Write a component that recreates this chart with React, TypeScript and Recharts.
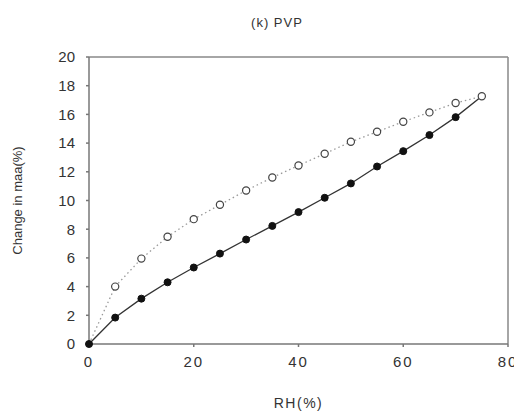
import React from 'react';
import { LineChart, Line, XAxis, YAxis, ReferenceLine } from 'recharts';

const rh = [0, 5, 10, 15, 20, 25, 30, 35, 40, 45, 50, 55, 60, 65, 70, 75];
const filledSeries = [0, 1.84, 3.16, 4.3, 5.33, 6.3, 7.28, 8.23, 9.19, 10.19, 11.19, 12.37, 13.44, 14.56, 15.81, 17.26];
const openSeries = [0, 4.0, 5.95, 7.47, 8.7, 9.7, 10.7, 11.6, 12.44, 13.26, 14.09, 14.79, 15.49, 16.14, 16.79, 17.26];
const xTicks = [0, 20, 40, 60, 80];
const yTicks = [0, 2, 4, 6, 8, 10, 12, 14, 16, 18, 20];

const data = rh.map((x, i) => ({ x, filled: filledSeries[i], open: openSeries[i] }));

const tickStyle = { fontFamily: '"Liberation Sans", Arial, sans-serif', fontSize: 15, fill: '#333' };

const FilledDot = (props: any) => {
  const { cx, cy, index } = props;
  if (index === rh.length - 1) return <g key={`f${index}`} />;
  return <circle key={`f${index}`} cx={cx} cy={cy} r={3.5} fill="#111" stroke="#111" strokeWidth={1} />;
};

const OpenDot = (props: any) => {
  const { cx, cy, index } = props;
  if (index === 0) return <g key={`o${index}`} />;
  return <circle key={`o${index}`} cx={cx} cy={cy} r={3.6} fill="#fff" stroke="#444" strokeWidth={1.2} />;
};

export default function App() {
  return (
    <div style={{ position: 'relative', width: 514, height: 405 }}>
      <div
        style={{
          position: 'absolute',
          left: 0,
          width: 538,
          top: 7,
          textAlign: 'center',
          fontFamily: '"Liberation Sans", Arial, sans-serif',
          fontSize: 13,
          letterSpacing: 1,
          color: '#333',
        }}
      >
        (k) PVP
      </div>
      <LineChart width={514} height={405} data={data} margin={{ top: 49, right: 14, left: 0, bottom: 9 }}>
        <XAxis
          dataKey="x"
          type="number"
          domain={[0, 80]}
          ticks={xTicks}
          tickSize={3}
          tickMargin={9}
          height={60}
          stroke="#777"
          strokeWidth={1.5}
          tick={{ ...tickStyle, letterSpacing: 2 }}
          label={{ value: 'RH(%)', position: 'center', dy: 29, style: { ...tickStyle, fontSize: 14, letterSpacing: 1.5 } }}
        />
        <YAxis
          type="number"
          domain={[0, 20]}
          ticks={yTicks}
          tickSize={3}
          tickMargin={11}
          width={81}
          stroke="#777"
          strokeWidth={1.5}
          tick={tickStyle}
          label={{ value: 'Change in maa(%)', angle: -90, position: 'center', dx: -31, style: { ...tickStyle, fontSize: 13 } }}
        />
        <ReferenceLine y={20} stroke="#888" strokeWidth={1.5} />
        <ReferenceLine x={80} stroke="#888" strokeWidth={1.5} />
        <Line
          dataKey="filled"
          stroke="#333"
          strokeWidth={1.3}
          dot={FilledDot}
          isAnimationActive={false}
        />
        <Line
          dataKey="open"
          stroke="#999"
          strokeWidth={1.3}
          strokeDasharray="1.5 3"
          dot={OpenDot}
          isAnimationActive={false}
        />
      </LineChart>
    </div>
  );
}
